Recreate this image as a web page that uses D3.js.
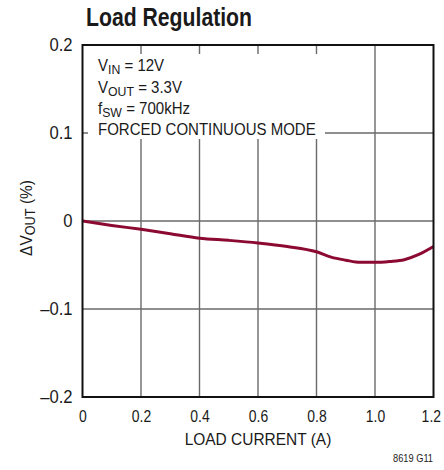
<!DOCTYPE html>
<html>
<head>
<meta charset="utf-8">
<script src="https://cdn.jsdelivr.net/npm/d3@7"></script>
<style>
  html, body { margin: 0; padding: 0; background: #fff; }
  svg { display: block; }
  text { font-family: "Liberation Sans", Arial, "Helvetica", sans-serif; fill: #1a1a1a; }
</style>
</head>
<body>
<svg id="chart" width="444" height="470"></svg>
<script>
// ---- data ----
const loadCurrent = [0, 0.1, 0.2, 0.3, 0.4, 0.5, 0.6, 0.7, 0.8, 0.85, 0.9, 0.95, 1.0, 1.05, 1.1, 1.15, 1.2];
const deltaVout   = [0, -0.005, -0.0095, -0.0145, -0.0195, -0.022, -0.025, -0.029, -0.035, -0.041, -0.0445, -0.047, -0.047, -0.046, -0.044, -0.038, -0.029];
const xTicks = [0, 0.2, 0.4, 0.6, 0.8, 1.0, 1.2];
const xTickLabels = ["0", "0.2", "0.4", "0.6", "0.8", "1.0", "1.2"];
const yTicks = [-0.2, -0.1, 0, 0.1, 0.2];
const yTickLabels = ["\u20130.2", "\u20130.1", "0", "0.1", "0.2"];
const titleText = "Load Regulation";
const xAxisTitle = "LOAD CURRENT (A)";
const figureId = "8619 G11";

const svg = d3.select("#chart");
const L = 82.5, T = 45, R = 433.5, B = 397;
const x = d3.scaleLinear().domain([0, 1.2]).range([L, R]);
const y = d3.scaleLinear().domain([-0.2, 0.2]).range([B, T]);

// condense text horizontally (emulates a condensed face)
function condense(sel, k) {
  sel.each(function () {
    const w = this.getComputedTextLength();
    d3.select(this).attr("textLength", w * k).attr("lengthAdjust", "spacingAndGlyphs");
  });
}

// title
svg.append("text").attr("x", 86).attr("y", 26)
  .attr("font-size", 25).attr("font-weight", "bold")
  .attr("textLength", 166).attr("lengthAdjust", "spacingAndGlyphs")
  .text(titleText);

// grid
const grid = svg.append("g").attr("stroke", "#6a6a6a").attr("stroke-width", 1.4);
grid.selectAll("line.v").data(xTicks.slice(1, -1)).join("line")
  .attr("x1", d => x(d)).attr("x2", d => x(d)).attr("y1", T).attr("y2", B);
grid.selectAll("line.h").data(yTicks.slice(1, -1)).join("line")
  .attr("x1", L).attr("x2", R).attr("y1", d => y(d)).attr("y2", d => y(d));

// annotation box (white background covering grid)
svg.append("rect").attr("x", 88).attr("y", 54).attr("width", 237).attr("height", 85).attr("fill", "#fff");
const ann = svg.append("g").attr("font-size", 16.5);
function subLine(yy, main, sub, rest) {
  const t = ann.append("text").attr("x", 98).attr("y", yy);
  t.append("tspan").text(main);
  if (sub) t.append("tspan").attr("font-size", 13.5).attr("dy", 3).text(sub);
  t.append("tspan").attr("dy", sub ? -3 : 0).text(rest);
  condense(t, 0.91);
}
subLine(71, "V", "IN", " = 12V");
subLine(92.5, "V", "OUT", " = 3.3V");
subLine(114, "f", "SW", " = 700kHz");
subLine(135, "FORCED CONTINUOUS MODE", null, "");

// curve
const pts = loadCurrent.map((c, i) => [c, deltaVout[i]]);
svg.append("path").datum(pts)
  .attr("fill", "none").attr("stroke", "#8c0a32").attr("stroke-width", 3)
  .attr("stroke-linejoin", "round")
  .attr("d", d3.line().x(d => x(d[0])).y(d => y(d[1])).curve(d3.curveMonotoneX));

// frame
svg.append("rect").attr("x", L).attr("y", T).attr("width", R - L).attr("height", B - T)
  .attr("fill", "none").attr("stroke", "#111").attr("stroke-width", 2);

// axes (labels only)
const xAxis = d3.axisBottom(x).tickValues(xTicks).tickSize(0).tickPadding(0)
  .tickFormat((d, i) => xTickLabels[i]);
const gx = svg.append("g").attr("transform", `translate(0,${B})`).call(xAxis);
gx.select(".domain").remove();
gx.selectAll("text").attr("font-size", 17).attr("fill", "#1a1a1a").attr("dy", null).attr("y", 25)
  .attr("font-family", "Liberation Sans, Arial, sans-serif");
// keep the last label inside the picture: anchor it at its right end
gx.selectAll("text").filter((d, i) => i === xTicks.length - 1)
  .attr("text-anchor", "end").attr("x", 7);
condense(gx.selectAll("text"), 0.82);

const yAxis = d3.axisLeft(y).tickValues(yTicks).tickSize(0).tickPadding(0)
  .tickFormat((d, i) => yTickLabels[i]);
const gy = svg.append("g").attr("transform", `translate(${L - 10},0)`).call(yAxis);
gy.select(".domain").remove();
gy.selectAll("text").attr("font-size", 17.5).attr("fill", "#1a1a1a").attr("x", 0).attr("dy", "0.34em")
  .attr("font-family", "Liberation Sans, Arial, sans-serif");
condense(gy.selectAll("text"), 0.95);

// axis titles
const xt = svg.append("text").attr("x", 258).attr("y", 445).attr("text-anchor", "middle")
  .attr("font-size", 17).text(xAxisTitle);
condense(xt, 0.91);

const yt = svg.append("text").attr("transform", "translate(32,218) rotate(-90)")
  .attr("text-anchor", "middle").attr("font-size", 17);
yt.append("tspan").text("\u0394V");
yt.append("tspan").attr("font-size", 14).attr("dy", 3).text("OUT");
yt.append("tspan").attr("dy", -3).text(" (%)");
condense(yt, 0.91);

const fid = svg.append("text").attr("x", 433).attr("y", 462).attr("text-anchor", "end")
  .attr("font-size", 10.5).text(figureId);
condense(fid, 0.88);
</script>
</body>
</html>
